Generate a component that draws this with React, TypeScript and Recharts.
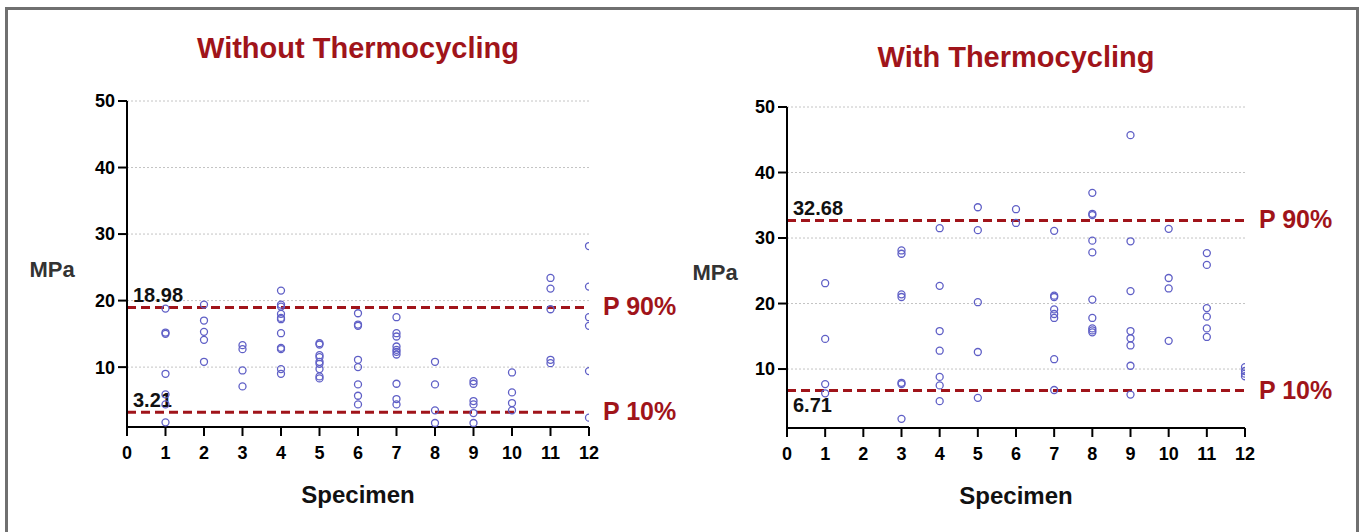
import React from 'react';
import { ScatterChart, Scatter, XAxis, YAxis, CartesianGrid, ReferenceLine } from 'recharts';

// Specimen numbers and tick values
const SPECIMENS = [1, 2, 3, 4, 5, 6, 7, 8, 9, 10, 11, 12];
const X_TICKS = [0, 1, 2, 3, 4, 5, 6, 7, 8, 9, 10, 11, 12];
const Y_TICKS = [10, 20, 30, 40, 50];

// Bond strength (MPa) per specimen, without thermocycling
const WITHOUT_TC: number[][] = [
  [18.8, 15.2, 15.0, 9.0, 5.9, 4.4, 1.7],
  [19.4, 17.0, 15.3, 14.1, 10.8],
  [13.3, 12.7, 9.5, 7.1],
  [21.5, 19.4, 19.1, 18.0, 17.4, 17.2, 15.1, 12.9, 12.7, 9.7, 9.0],
  [13.6, 13.4, 11.8, 11.5, 10.8, 10.5, 9.7, 8.6, 8.3],
  [18.1, 16.4, 16.2, 11.1, 10.0, 7.4, 5.7, 4.4],
  [17.5, 15.1, 14.6, 13.1, 12.6, 12.3, 11.9, 7.5, 5.2, 4.4],
  [10.8, 7.4, 3.5, 1.6],
  [7.9, 7.5, 4.9, 4.4, 3.1, 1.6],
  [9.2, 6.2, 4.6, 3.5],
  [23.4, 21.8, 18.7, 11.1, 10.6],
  [28.2, 22.1, 17.5, 16.2, 9.4, 2.4],
];

// Bond strength (MPa) per specimen, with thermocycling
const WITH_TC: number[][] = [
  [23.1, 14.6, 7.7, 6.3],
  [],
  [28.1, 27.6, 21.4, 21.0, 7.9, 7.7, 2.4],
  [31.5, 22.7, 15.8, 12.8, 8.8, 7.5, 5.1],
  [34.7, 31.2, 20.2, 12.6, 5.6],
  [34.4, 32.3],
  [31.1, 21.2, 21.0, 19.1, 18.4, 17.8, 11.5, 6.8],
  [36.9, 33.7, 33.5, 29.6, 27.8, 20.6, 17.8, 16.2, 15.9, 15.6],
  [45.7, 29.5, 21.9, 15.8, 14.7, 13.6, 10.5, 6.1],
  [31.4, 23.9, 22.3, 14.3],
  [27.7, 25.9, 19.3, 18.0, 16.2, 14.9],
  [10.3, 9.7, 9.3, 8.9],
];

// P90 / P10 percentiles
const WITHOUT_PCT = [18.98, 3.21];
const WITH_PCT = [32.68, 6.71];

const RED = '#a0141a';
const DOT = '#5f5fc6';
const AXIS_W = 60;

const toPoints = (groups: number[][]) =>
  groups.flatMap((vals, i) => vals.map((y) => ({ x: SPECIMENS[i], y })));

const ringShape = (props: any) => (
  <circle cx={props.cx} cy={props.cy} r={3.5} fill="none" stroke={DOT} strokeWidth={1.3} />
);

// value text on the left, "P xx%" tag right of the plot
const refLabel = (value: number, tag: string, below: boolean) => (props: any) => {
  const { x, y, width } = props.viewBox;
  return (
    <g>
      <text x={x + 6} y={below ? y + 21 : y - 5} fontSize={20} fontWeight="bold" fill="#111">
        {value.toFixed(2)}
      </text>
      <text x={x + width + 14} y={y + 8} fontSize={25} fontWeight="bold" fill={RED}>
        {tag}
      </text>
    </g>
  );
};

interface PanelProps {
  title: string;
  groups: number[][];
  pct: number[];
  p10Below: boolean;
  left: number;
  width: number;
  margin: { top: number; right: number; bottom: number; left: number };
  titleTop: number;
  mpaDx: number;
}

const Panel: React.FC<PanelProps> = ({ title, groups, pct, p10Below, left, width, margin, titleTop, mpaDx }) => {
  const plotLeft = margin.left + AXIS_W;
  const plotWidth = width - plotLeft - margin.right;
  return (
    <div style={{ position: 'absolute', left, top: 0, width, height: 532 }}>
      <ScatterChart width={width} height={532} margin={margin}>
        <CartesianGrid vertical={false} stroke="#c4c4c4" strokeDasharray="2 2" />
        <XAxis
          type="number"
          dataKey="x"
          domain={[0, 12]}
          ticks={X_TICKS}
          interval={0}
          allowDataOverflow
          height={80}
          tickSize={9}
          tickMargin={10}
          axisLine={{ stroke: '#000', strokeWidth: 2 }}
          tickLine={{ stroke: '#000', strokeWidth: 2 }}
          tick={{ fill: '#000', fontSize: 18, fontWeight: 'bold' }}
          label={(p: any) => (
            <text
              x={p.viewBox.x + p.viewBox.width / 2}
              y={p.viewBox.y + 76}
              textAnchor="middle"
              fontSize={24}
              fontWeight="bold"
              fill="#111"
            >
              Specimen
            </text>
          )}
        />
        <YAxis
          type="number"
          dataKey="y"
          domain={[1, 50]}
          ticks={Y_TICKS}
          interval={0}
          allowDataOverflow
          width={AXIS_W}
          tickSize={9}
          tickMargin={3}
          axisLine={{ stroke: '#000', strokeWidth: 2 }}
          tickLine={{ stroke: '#000', strokeWidth: 2 }}
          tick={{ fill: '#000', fontSize: 18, fontWeight: 'bold' }}
          label={(p: any) => (
            <text
              x={p.viewBox.x + mpaDx}
              y={p.viewBox.y + p.viewBox.height * 0.515 + 8}
              textAnchor="middle"
              fontSize={22}
              fontWeight="bold"
              fill="#333"
            >
              MPa
            </text>
          )}
        />
        <ReferenceLine
          y={pct[0]}
          stroke={RED}
          strokeWidth={3}
          strokeDasharray="9 5"
          label={refLabel(pct[0], 'P 90%', false)}
        />
        <ReferenceLine
          y={pct[1]}
          stroke={RED}
          strokeWidth={3}
          strokeDasharray="9 5"
          label={refLabel(pct[1], 'P 10%', p10Below)}
        />
        <Scatter data={toPoints(groups)} shape={ringShape} isAnimationActive={false} />
      </ScatterChart>
      <div
        style={{
          position: 'absolute',
          left: plotLeft,
          width: plotWidth,
          top: titleTop,
          textAlign: 'center',
          color: RED,
          fontSize: 29,
          fontWeight: 'bold',
          lineHeight: '34px',
        }}
      >
        {title}
      </div>
    </div>
  );
};

export default function App() {
  return (
    <div
      style={{
        position: 'absolute',
        left: 0,
        top: 0,
        width: 1363,
        height: 532,
        overflow: 'hidden',
        background: '#fff',
        fontFamily: '"Liberation Sans", Arial, sans-serif',
      }}
    >
      <div
        style={{
          position: 'absolute',
          left: 5,
          top: 7,
          width: 1354,
          height: 600,
          border: '3px solid #707070',
          boxSizing: 'border-box',
        }}
      />
      <Panel
        title="Without Thermocycling"
        groups={WITHOUT_TC}
        pct={WITHOUT_PCT}
        p10Below={false}
        left={0}
        width={680}
        margin={{ top: 101, right: 91, bottom: 25, left: 67 }}
        titleTop={31}
        mpaDx={-15}
      />
      <Panel
        title="With Thermocycling"
        groups={WITH_TC}
        pct={WITH_PCT}
        p10Below={true}
        left={680}
        width={683}
        margin={{ top: 107, right: 118, bottom: 24, left: 47 }}
        titleTop={40}
        mpaDx={-12}
      />
    </div>
  );
}
